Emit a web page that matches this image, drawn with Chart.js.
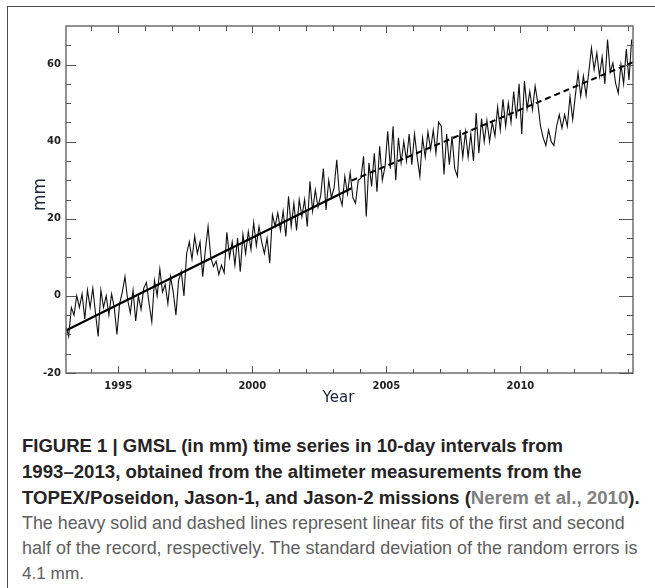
<!DOCTYPE html>
<html>
<head>
<meta charset="utf-8">
<script src="https://cdn.jsdelivr.net/npm/chart.js@4.4.1/dist/chart.umd.min.js"></script>
<style>
  html, body { margin: 0; padding: 0; background: #fff; }
  body { width: 655px; height: 588px; overflow: hidden; position: relative; }
  .frame {
    position: absolute; left: 7px; top: 6px; width: 700px; height: 640px;
    border-left: 1.5px solid #4a4a4a; border-top: 1.5px solid #4a4a4a;
  }
  #chart { position: absolute; left: 0; top: 0; }
  .caption {
    position: absolute; left: 22px; top: 433px;
    font-family: "Liberation Sans", Arial, sans-serif; line-height: 25px;
  }
  .caption .line { white-space: nowrap; }
  .caption .line span.fit { display: inline-block; }
  .bold { font-weight: bold; color: #262324; }
  .regular { font-weight: normal; color: #5e5e5e; }
  .ref { color: #808080; }
</style>
</head>
<body>
<div class="frame"></div>
<canvas id="chart" width="655" height="410"></canvas>
<div class="caption">
  <div class="line bold"><span class="fit" data-w="541">FIGURE 1 | GMSL (in mm) time series in 10-day intervals from</span></div>
  <div class="line bold"><span class="fit" data-w="560">1993–2013, obtained from the altimeter measurements from the</span></div>
  <div class="line bold"><span class="fit" data-w="618">TOPEX/Poseidon, Jason-1, and Jason-2 missions (<span class="ref">Nerem et al., 2010</span>).</span></div>
  <div class="line regular"><span class="fit" data-w="603">The heavy solid and dashed lines represent linear fits of the first and second</span></div>
  <div class="line regular"><span class="fit" data-w="616">half of the record, respectively. The standard deviation of the random errors is</span></div>
  <div class="line regular"><span class="fit" data-w="62">4.1 mm.</span></div>
</div>
<script>
// GMSL record, one value every STEP_YEARS from START_YEAR (mm)
const START_YEAR = 1993.05;
const STEP_YEARS = 0.1;
const GMSL_MM = [
  -8, -10.5, -3, -5, 0, -3, 0.5, -6, 1.5, -3,          // 1993
  2, -4.5, -10.5, 1.5, -3, 0, -5, 0.5, -3, -10,        // 1994
  -2, 1, 5, -1, -4.5, 1.5, -6.5, 0, -3.5, 2,           // 1995
  3.5, -2, -6.7, 4, 0, 7, 1, 3, -2, 5,                 // 1996
  1, -5, 4, 6.3, 0, 11, 14, 9.5, 15.5, 11,             // 1997
  14, 5, 12, 18, 10, 7.6, 9, 5.5, 8, 6,                // 1998
  16.5, 10, 14, 8, 15, 6.3, 16, 11, 16.7, 12,          // 1999
  19, 13, 18, 14, 11, 15, 8.5, 21, 18, 21.5,           // 2000
  17, 22, 15.4, 25.8, 18, 24, 17, 25, 20.5, 25,        // 2001
  18, 29.7, 22, 27.5, 23, 26, 33, 22.3, 30, 25.5,      // 2002
  28, 35.3, 26, 23.5, 31, 26.5, 32, 25.5, 24, 30,      // 2003
  30.5, 36.2, 20.6, 34.5, 28.4, 37, 27, 38.8, 30, 33.5,// 2004
  42.7, 33, 44, 30, 41, 34.5, 40, 35, 42, 34,          // 2005
  42, 36, 31, 41, 36, 42.5, 38, 43, 37, 45,            // 2006
  44, 31.5, 42, 34, 41.4, 33, 31, 43, 36, 42.5,        // 2007
  36, 42, 35, 47.4, 37, 46, 40, 45.5, 40, 45,          // 2008
  41.5, 49, 43, 51, 44, 50, 45, 53, 46, 55,            // 2009
  42, 55.7, 48.5, 53, 48.3, 54.4, 50, 44, 41, 39,      // 2010
  43, 40, 39, 44, 47, 43.5, 47, 44, 51.8, 45.7,        // 2011
  52, 57.8, 51.8, 57, 52, 58, 64.3, 58.7, 63, 57,      // 2012
  62, 55, 66.5, 58, 60.4, 55.2, 52.6, 60, 55, 64,      // 2013
  56, 66.5                                             // 2014
];

// linear fits: first half (solid), second half (dashed)
const FIT1_YEARS = [1993.05, 2003.7];
const FIT1_MM = [-9, 27.9];
const FIT2_YEARS = [2003.7, 2014.2];
const FIT2_MM = [29.9, 60.6];

const X_TICKS = [1995, 2000, 2005, 2010];
const Y_TICKS = [-20, 0, 20, 40, 60];
const X_RANGE = [1993.05, 2014.2];
const Y_RANGE = [-20, 70];

const toPoints = (xs, ys) => ys.map((v, i) => ({ x: xs[i], y: v }));
const seriesPoints = GMSL_MM.map((v, i) => ({ x: START_YEAR + i * STEP_YEARS, y: v }));

// frame, inward ticks and axis titles, like the original plot
const plotFrame = {
  id: 'plotFrame',
  afterDatasetsDraw(chart) {
    const { ctx, chartArea: a, scales: { x, y } } = chart;
    ctx.save();
    ctx.strokeStyle = '#6e6e6e';
    ctx.lineWidth = 1.5;
    ctx.strokeRect(a.left, a.top, a.right - a.left, a.bottom - a.top);

    ctx.lineWidth = 1;
    ctx.strokeStyle = '#555';
    ctx.beginPath();
    for (let yr = Math.ceil(x.min); yr <= x.max; yr++) {
      const px = Math.round(x.getPixelForValue(yr)) + 0.5;
      const major = yr % 5 === 0;
      ctx.moveTo(px, a.bottom); ctx.lineTo(px, a.bottom - (major ? 7 : 4));
      ctx.moveTo(px, a.top); ctx.lineTo(px, a.top + (major ? 7 : 5));
    }
    for (let v = y.min; v < y.max; v += 5) {
      const py = Math.round(y.getPixelForValue(v)) + 0.5;
      const major = v % 20 === 0;
      ctx.moveTo(a.left, py); ctx.lineTo(a.left + (major ? 10 : 5), py);
      ctx.moveTo(a.right, py); ctx.lineTo(a.right - (major ? 14 : 6), py);
    }
    ctx.stroke();

    ctx.fillStyle = '#1d2436';
    ctx.font = '15px "DejaVu Sans"';
    ctx.textAlign = 'center';
    ctx.textBaseline = 'alphabetic';
    ctx.fillText('Year', (a.left + a.right) / 2 - 11, 402);
    ctx.font = '17px "DejaVu Sans"';
    ctx.translate(45, (a.top + a.bottom) / 2 - 5);
    ctx.rotate(-Math.PI / 2);
    ctx.fillText('mm', 0, 0);
    ctx.restore();
  }
};

new Chart(document.getElementById('chart'), {
  type: 'line',
  data: {
    datasets: [
      {
        label: 'Fit 1993-2003',
        data: toPoints(FIT1_YEARS, FIT1_MM),
        borderColor: '#000',
        borderWidth: 2.2,
        pointRadius: 0,
      },
      {
        label: 'Fit 2003-2014',
        data: toPoints(FIT2_YEARS, FIT2_MM),
        borderColor: '#000',
        borderWidth: 2,
        borderDash: [6, 4],
        pointRadius: 0,
      },
      {
        label: 'GMSL',
        data: seriesPoints,
        borderColor: '#111',
        borderWidth: 1.1,
        pointRadius: 0,
        tension: 0,
      },
    ],
  },
  options: {
    responsive: false,
    devicePixelRatio: 1,
    animation: false,
    layout: { padding: { left: 0, right: 22, top: 26, bottom: 0 } },
    plugins: {
      legend: { display: false },
      tooltip: { enabled: false },
    },
    scales: {
      x: {
        type: 'linear',
        min: X_RANGE[0],
        max: X_RANGE[1],
        afterBuildTicks: s => { s.ticks = X_TICKS.map(v => ({ value: v })); },
        afterFit: s => { s.height = 37; },
        grid: { display: false, drawTicks: false },
        border: { display: false },
        ticks: {
          padding: 7,
          color: '#222',
          font: { family: 'DejaVu Sans', size: 10, weight: 'bold' },
          callback: v => String(v),
          maxRotation: 0,
        },
      },
      y: {
        min: Y_RANGE[0],
        max: Y_RANGE[1],
        afterBuildTicks: s => { s.ticks = Y_TICKS.map(v => ({ value: v })); },
        afterFit: s => { s.width = 66; },
        grid: { display: false, drawTicks: false },
        border: { display: false },
        ticks: {
          padding: 5,
          color: '#222',
          font: { family: 'DejaVu Sans', size: 10, weight: 'bold' },
          callback: v => String(v),
        },
      },
    },
  },
  plugins: [plotFrame],
});

// size each caption line to the width it has in the figure
document.querySelectorAll('.caption .fit').forEach(el => {
  el.style.fontSize = '18px';
  const w = el.getBoundingClientRect().width;
  el.style.fontSize = (18 * Number(el.dataset.w) / w).toFixed(2) + 'px';
});
</script>
</body>
</html>
